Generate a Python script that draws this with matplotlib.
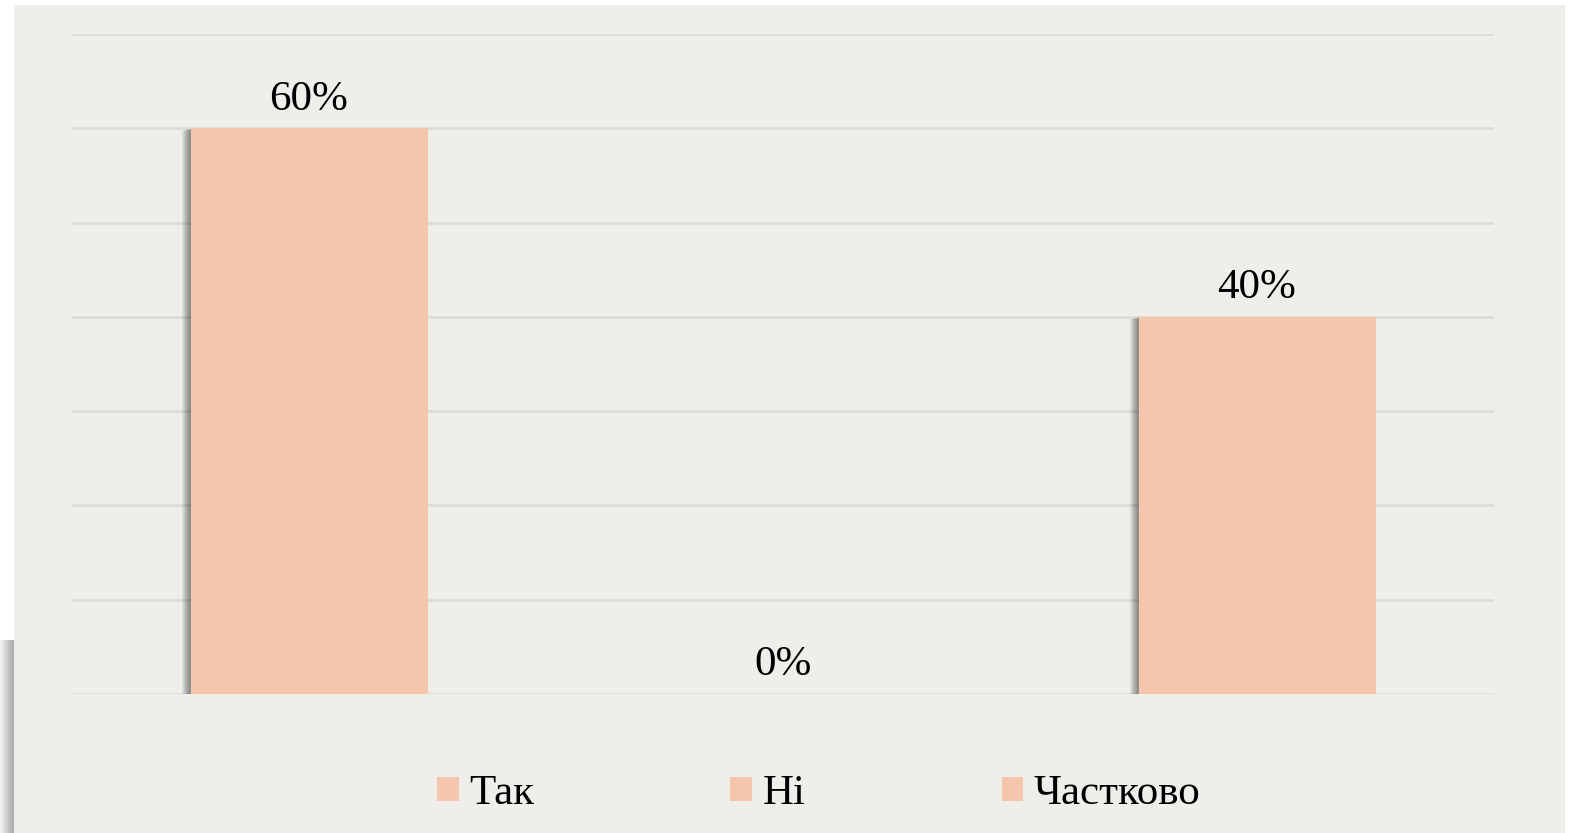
import matplotlib
matplotlib.use("Agg")
import matplotlib.pyplot as plt
from matplotlib.patches import Rectangle, Patch
import matplotlib.patheffects as pe

categories = ["Так", "Ні", "Частково"]
values = [0.60, 0.00, 0.40]
labels = ["60%", "0%", "40%"]
yticks = [0.0, 0.1, 0.2, 0.3, 0.4, 0.5, 0.6, 0.7]

W, H = 1578, 833
fig = plt.figure(figsize=(W / 100, H / 100), dpi=100, facecolor="white")
plt.rcParams["font.family"] = ["Liberation Serif", "DejaVu Serif"]

bg = "#EFEEEA"
bar_color = "#F5C6AB"

# left-edge shadow of the panel
for w in range(2, 16, 2):
    fig.patches.append(Rectangle((14 - w, 0), w, 833 - 640, transform=None,
                                 facecolor="black", alpha=0.05, edgecolor="none", zorder=-3))
# panel
fig.patches.append(Rectangle((14 / W, 0), (1565 - 14) / W, (833 - 5) / H,
                             transform=fig.transFigure, facecolor=bg,
                             edgecolor="none", zorder=-2))

ax = fig.add_axes([72 / W, (H - 694) / H, (1494 - 72) / W, 660 / H])
ax.set_zorder(1)
ax.set_facecolor("none")
ax.set_xlim(-0.5, len(categories) - 0.5)
ax.set_ylim(0, 0.7)
for s in ax.spines.values():
    s.set_visible(False)
ax.set_xticks([])
ax.set_yticks(yticks)
ax.tick_params(left=False, labelleft=False)
ax.yaxis.grid(True, color="#DCDBD8", linewidth=2.0)
ax.set_axisbelow(True)

shadow = [pe.SimplePatchShadow(offset=(-0.75 * d, -0.2 * d), shadow_rgbFace="black", alpha=0.06)
          for d in range(1, 9)] + [pe.Normal()]

x = list(range(len(categories)))
bars = ax.bar(x, values, width=0.5, color=bar_color, zorder=3)
for b in bars:
    b.set_path_effects(shadow)

for xi, v, lab in zip(x, values, labels):
    ax.annotate(lab, (xi, v), xytext=(0, 13.5), textcoords="offset points",
                ha="center", va="baseline", fontsize=31, color="black")

handles = [Patch(facecolor=bar_color, edgecolor="none", label=c) for c in categories]
leg = fig.legend(handles=handles, loc="center", bbox_to_anchor=((W / 2 + 30) / W, 1 - 794 / H),
                 ncol=3, frameon=False, fontsize=31, handlelength=0.5, handleheight=0.5,
                 handletextpad=0.25, columnspacing=4.55)

fig.savefig("out.png", dpi=100, facecolor="white")
